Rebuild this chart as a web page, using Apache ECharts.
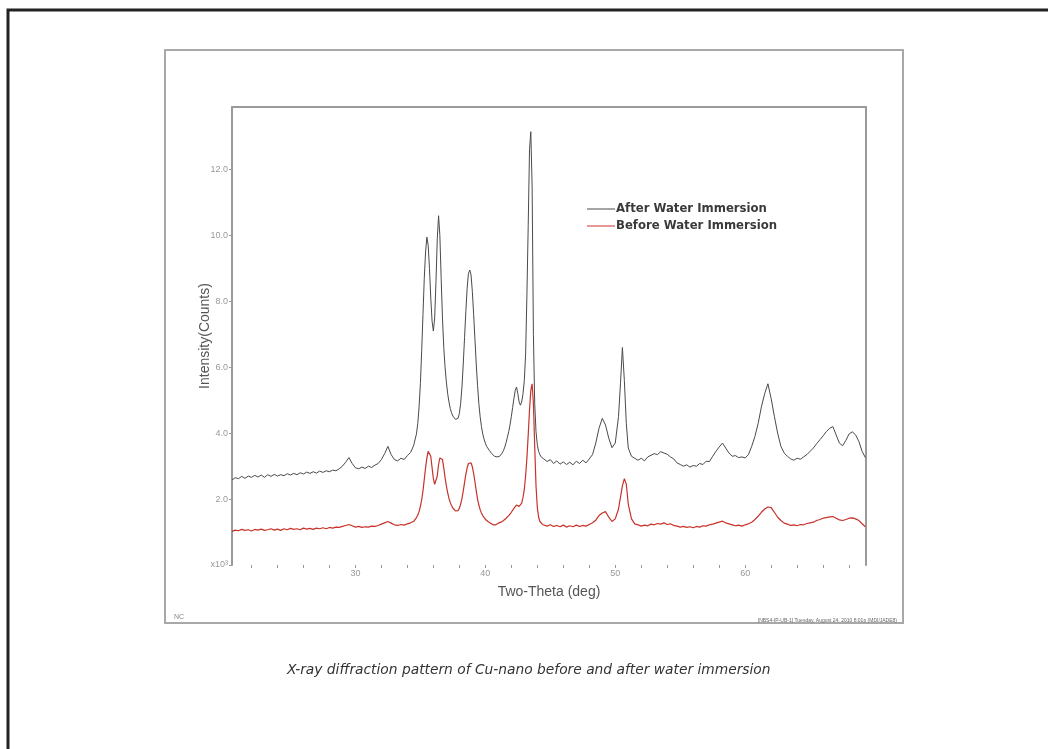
<!DOCTYPE html>
<html>
<head>
<meta charset="utf-8">
<script src="https://cdn.jsdelivr.net/npm/echarts@6/dist/echarts.min.js"></script>
<style>html,body{margin:0;padding:0;background:#fff;}#chart{width:1048px;height:749px;}</style>
</head>
<body>
<div id="chart"></div>
<script>
// Two-theta positions (deg)
const twoTheta = [
  20.5,20.75,21,21.25,21.5,21.75,22,22.25,22.5,22.75,23,23.25,23.5,23.75,24,24.25,24.5,24.75,25,25.25,25.5,25.75,26,26.25,26.5,26.75,27,27.25,27.5,27.75,28,28.25,28.5,28.75,29,29.25,29.5,29.75,30,30.25,30.5,30.75,31,31.25,31.5,31.75,32,32.25,32.5,32.75,33,33.25,33.5,33.75,34,34.25,
  34.4,34.5,34.6,34.7,34.8,34.9,35,35.1,35.2,35.3,35.4,35.5,35.6,35.7,35.8,35.9,36,36.1,36.2,36.3,36.4,36.5,36.6,36.7,36.8,36.9,37,37.1,37.2,37.3,37.4,37.5,37.6,37.7,37.8,37.9,38,38.1,38.2,38.3,38.4,38.5,38.6,38.7,38.8,38.9,39,39.1,39.2,39.3,39.4,39.5,39.6,39.7,39.8,39.9,40,40.1,40.2,40.3,40.4,40.5,40.6,40.7,40.8,40.9,41,41.1,41.2,41.3,41.4,41.5,41.6,41.7,41.8,41.9,42,42.1,42.2,42.3,42.4,42.5,42.6,42.7,42.8,42.9,43,43.1,43.2,43.3,43.4,43.5,43.6,43.7,43.8,43.9,44,44.1,44.2,44.3,44.4,
  44.5,44.75,45,45.25,45.5,45.75,46,46.25,46.5,46.75,47,47.25,47.5,47.75,48,48.25,48.5,48.75,49,49.25,49.5,49.75,50,50.25,50.4,50.55,50.7,50.85,51,51.25,51.5,51.75,52,52.25,52.5,52.75,53,53.25,53.5,53.75,54,54.25,54.5,54.75,55,55.25,55.5,55.75,56,56.25,56.5,56.75,57,57.25,57.5,57.75,58,58.25,58.5,58.75,59,59.25,59.5,59.75,60,60.25,60.5,60.75,61,61.25,61.5,61.75,62,62.25,62.5,62.75,63,63.25,63.5,63.75,64,64.25,64.5,64.75,65,65.25,65.5,65.75,66,66.25,66.5,66.75,67,67.25,67.5,67.75,68,68.25,68.5,68.75,69,69.25
];
// Intensity (x10^3 counts) after water immersion
const afterCounts = [
  2.58,2.65,2.62,2.69,2.63,2.70,2.66,2.72,2.67,2.73,2.66,2.74,2.69,2.75,2.70,2.74,2.71,2.77,2.73,2.78,2.74,2.80,2.76,2.82,2.78,2.83,2.79,2.85,2.81,2.86,2.83,2.88,2.86,2.92,3.00,3.12,3.26,3.08,2.95,2.92,2.97,2.93,3.00,2.96,3.03,3.08,3.20,3.38,3.60,3.35,3.20,3.16,3.24,3.20,3.32,3.42,
  3.55,3.65,3.82,3.98,4.30,4.80,5.50,6.50,7.60,8.70,9.50,9.95,9.70,9.00,8.10,7.40,7.10,7.50,8.60,9.90,10.60,10.00,8.70,7.50,6.60,6.00,5.55,5.20,4.95,4.75,4.62,4.52,4.46,4.42,4.40,4.45,4.60,4.90,5.40,6.10,6.90,7.70,8.40,8.85,8.95,8.80,8.30,7.60,6.85,6.10,5.45,4.90,4.50,4.20,3.98,3.82,3.70,3.60,3.55,3.48,3.42,3.38,3.35,3.30,3.33,3.28,3.32,3.30,3.35,3.40,3.48,3.58,3.72,3.88,4.05,4.25,4.50,4.78,5.05,5.30,5.40,5.20,4.95,4.85,4.95,5.20,5.60,6.40,8.20,10.30,12.60,13.15,11.50,7.00,4.90,4.05,3.65,3.45,3.35,3.28,3.24,
  3.22,3.14,3.20,3.08,3.16,3.06,3.13,3.05,3.12,3.04,3.15,3.08,3.18,3.10,3.22,3.35,3.70,4.15,4.45,4.25,3.85,3.56,3.70,4.50,5.50,6.60,5.60,4.30,3.55,3.30,3.24,3.18,3.24,3.16,3.28,3.33,3.38,3.35,3.44,3.40,3.36,3.28,3.22,3.10,3.05,3.00,3.04,2.97,3.02,3.00,3.08,3.05,3.15,3.14,3.30,3.45,3.58,3.70,3.55,3.40,3.30,3.32,3.26,3.28,3.25,3.35,3.60,3.90,4.30,4.80,5.20,5.50,5.05,4.50,4.00,3.60,3.40,3.30,3.22,3.18,3.24,3.21,3.28,3.35,3.45,3.55,3.68,3.80,3.92,4.05,4.15,4.20,3.95,3.70,3.62,3.78,3.98,4.04,3.95,3.75,3.45,3.26
];
// Intensity (x10^3 counts) before water immersion
const beforeCounts = [
  1.02,1.06,1.04,1.08,1.05,1.07,1.03,1.08,1.06,1.09,1.05,1.07,1.10,1.06,1.09,1.05,1.10,1.07,1.11,1.08,1.10,1.07,1.12,1.09,1.11,1.08,1.12,1.10,1.13,1.10,1.14,1.12,1.15,1.14,1.17,1.20,1.23,1.19,1.15,1.17,1.14,1.16,1.15,1.18,1.17,1.20,1.24,1.28,1.32,1.27,1.22,1.20,1.23,1.21,1.25,1.28,
  1.30,1.33,1.38,1.44,1.52,1.62,1.78,1.98,2.25,2.60,2.95,3.25,3.45,3.48,3.30,2.95,2.62,2.45,2.42,2.70,3.05,3.25,3.28,3.20,2.95,2.65,2.40,2.20,2.02,1.90,1.80,1.73,1.68,1.64,1.62,1.65,1.72,1.85,2.02,2.25,2.50,2.75,2.95,3.08,3.13,3.10,2.98,2.78,2.52,2.25,2.00,1.82,1.68,1.58,1.50,1.44,1.39,1.36,1.32,1.30,1.27,1.25,1.22,1.24,1.22,1.25,1.27,1.28,1.30,1.32,1.35,1.38,1.42,1.46,1.50,1.55,1.60,1.66,1.72,1.78,1.82,1.82,1.78,1.80,1.88,2.05,2.30,2.70,3.25,3.95,4.70,5.30,5.50,4.90,3.60,2.40,1.75,1.45,1.32,1.26,1.23,
  1.21,1.18,1.22,1.17,1.20,1.16,1.21,1.15,1.19,1.16,1.21,1.17,1.20,1.18,1.23,1.28,1.36,1.50,1.58,1.62,1.45,1.32,1.40,1.70,2.05,2.40,2.62,2.45,1.85,1.40,1.25,1.22,1.18,1.21,1.19,1.24,1.22,1.26,1.24,1.28,1.23,1.25,1.20,1.18,1.15,1.17,1.14,1.16,1.13,1.17,1.15,1.19,1.18,1.22,1.24,1.27,1.30,1.33,1.28,1.25,1.22,1.19,1.21,1.18,1.22,1.25,1.30,1.38,1.48,1.60,1.70,1.76,1.74,1.60,1.45,1.35,1.27,1.24,1.20,1.22,1.19,1.23,1.22,1.26,1.28,1.30,1.35,1.38,1.42,1.44,1.46,1.47,1.42,1.37,1.35,1.38,1.42,1.43,1.40,1.35,1.25,1.16
];
const seriesNames = ['After Water Immersion', 'Before Water Immersion'];
const xLabelValues = [30, 40, 50, 60];
const xTickValues = [22,24,26,28,30,32,34,36,38,40,42,44,46,48,50,52,54,56,58,60,62,64,66,68];
const yLabelValues = [0, 2, 4, 6, 8, 10, 12];

const chart = echarts.init(document.getElementById('chart'), null, {renderer: 'canvas'});
const pair = arr => twoTheta.map((t, i) => [t, arr[i]]);
const axisGrey = '#9a9a9a';
chart.setOption({
  animation: false,
  backgroundColor: '#ffffff',
  graphic: [
    {type: 'rect', shape: {x: 8, y: 10, width: 1200, height: 900}, style: {fill: 'none', stroke: '#222', lineWidth: 3}, silent: true},
    {type: 'rect', shape: {x: 165, y: 50, width: 738, height: 573}, style: {fill: 'none', stroke: '#a8a8a8', lineWidth: 2}, silent: true}
  ],
  title: [
    {text: 'X-ray diffraction pattern of Cu-nano before and after water immersion', left: 282, top: 658,
     textStyle: {fontFamily: 'DejaVu Sans', fontStyle: 'italic', fontWeight: 'normal', fontSize: 13.8, color: '#333'}},
    {text: 'NC', left: 169, top: 609, textStyle: {fontFamily: 'Liberation Sans', fontWeight: 'normal', fontSize: 7, color: '#888'}},
    {text: '[NBS4-IP-UB-1] Tuesday, August 24, 2010 8:01p (MDI/JADE8)', right: 146, top: 613,
     textStyle: {fontFamily: 'Liberation Sans', fontWeight: 'normal', fontSize: 5, color: '#666'}}
  ],
  legend: {
    data: seriesNames, orient: 'vertical', left: 582, top: 198, itemGap: 5,
    itemWidth: 28, itemHeight: 11, icon: 'path://M0,10 L28,10 L28,11 L0,11 Z',
    textStyle: {fontFamily: 'DejaVu Sans', fontWeight: 'bold', fontSize: 11.7, color: '#3a3a3a', padding: [0, 0, 0, -4]}
  },
  grid: {left: 232, right: 182, top: 107, bottom: 184, containLabel: false},
  xAxis: [
    {type: 'value', min: 20.5, max: 69.3,
     name: 'Two-Theta (deg)', nameLocation: 'middle', nameGap: 20,
     nameTextStyle: {fontFamily: 'Liberation Sans', fontSize: 14, color: '#555'},
     axisLine: {show: false, onZero: false},
     axisTick: {show: true, customValues: xTickValues, length: 3, lineStyle: {color: axisGrey}},
     axisLabel: {customValues: xLabelValues, fontFamily: 'Liberation Sans', fontSize: 9, color: '#999', margin: 4},
     splitLine: {show: false}},
    {type: 'value', position: 'top', min: 20.5, max: 69.3,
     axisLine: {show: true, onZero: false, lineStyle: {color: axisGrey, width: 2}},
     axisTick: {show: false}, axisLabel: {show: false}, splitLine: {show: false}}
  ],
  yAxis: [
    {type: 'value', min: 0, max: 13.9,
     name: 'Intensity(Counts)', nameLocation: 'middle', nameGap: 20, nameMoveOverlap: false,
     nameTextStyle: {fontFamily: 'Liberation Sans', fontSize: 14, color: '#555'},
     axisLine: {show: true, onZero: false, lineStyle: {color: axisGrey, width: 2}},
     axisTick: {show: true, customValues: yLabelValues, length: 3, lineStyle: {color: axisGrey}},
     axisLabel: {customValues: yLabelValues, fontFamily: 'Liberation Sans', fontSize: 9, color: '#999', margin: 4,
       formatter: v => v === 0 ? 'x10³' : v.toFixed(1)},
     splitLine: {show: false}},
    {type: 'value', position: 'right', min: 0, max: 13.9,
     axisLine: {show: true, onZero: false, lineStyle: {color: axisGrey, width: 2}},
     axisTick: {show: false}, axisLabel: {show: false}, splitLine: {show: false}}
  ],
  series: [
    {name: seriesNames[0], type: 'line', data: pair(afterCounts), showSymbol: false, symbol: 'none',
     lineStyle: {color: '#4a4a4a', width: 1}, itemStyle: {color: '#4a4a4a'}},
    {name: seriesNames[1], type: 'line', data: pair(beforeCounts), showSymbol: false, symbol: 'none',
     lineStyle: {color: '#c8322a', width: 1.2}, itemStyle: {color: '#c8322a'}}
  ]
});
</script>
</body>
</html>
